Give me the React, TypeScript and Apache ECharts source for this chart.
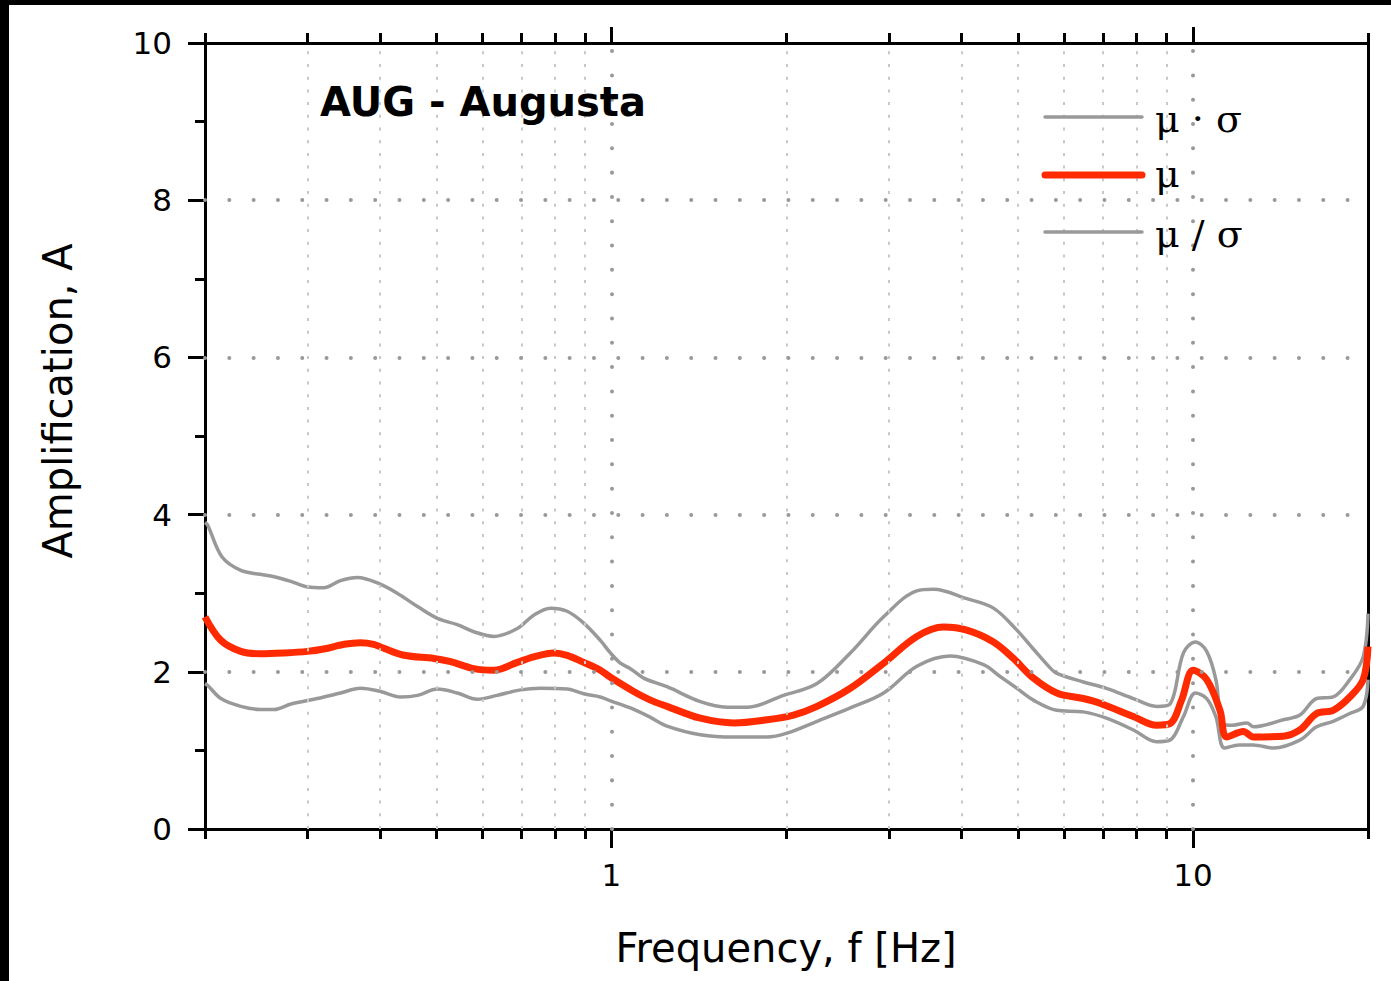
import React, { useEffect, useRef } from 'react';
import * as echarts from 'echarts';

// ---- data ----
const freqUpper = [0.2, 0.202, 0.214, 0.2305, 0.249, 0.263, 0.281, 0.3, 0.32, 0.342, 0.366, 0.396, 0.428, 0.464, 0.502, 0.543, 0.58, 0.628, 0.689, 0.735, 0.786, 0.839, 0.896, 0.957, 0.996, 1.036, 1.078, 1.136, 1.246, 1.422, 1.58, 1.711, 1.977, 2.257, 2.575, 2.938, 3.351, 3.579, 4.084, 4.539, 4.98, 5.316, 5.68, 5.832, 6.479, 7.1, 7.899, 8.662, 9.13, 9.63, 10.1, 10.56, 10.95, 11.25, 11.7, 12.38, 12.7, 14.3, 15.27, 16.32, 17.42, 18.61, 19.62, 20];
const valUpper = [3.9, 3.87, 3.46, 3.29, 3.24, 3.21, 3.15, 3.08, 3.07, 3.16, 3.2, 3.13, 3.0, 2.83, 2.68, 2.6, 2.51, 2.45, 2.55, 2.72, 2.81, 2.77, 2.62, 2.4, 2.24, 2.11, 2.04, 1.92, 1.81, 1.62, 1.55, 1.55, 1.7, 1.85, 2.24, 2.7, 3.03, 3.05, 2.93, 2.81, 2.53, 2.29, 2.05, 1.98, 1.87, 1.79, 1.66, 1.56, 1.59, 2.24, 2.38, 2.26, 1.9, 1.34, 1.32, 1.35, 1.3, 1.39, 1.45, 1.66, 1.68, 1.9, 2.19, 2.74];

const freqMean = [0.2, 0.213, 0.2305, 0.249, 0.2735, 0.3, 0.32, 0.347, 0.37, 0.39, 0.406, 0.44, 0.495, 0.529, 0.58, 0.628, 0.689, 0.735, 0.796, 0.839, 0.896, 0.957, 0.996, 1.092, 1.167, 1.246, 1.422, 1.623, 1.851, 2.057, 2.257, 2.575, 2.938, 3.351, 3.724, 4.084, 4.539, 4.912, 5.316, 5.832, 6.479, 6.922, 7.899, 8.662, 9.13, 9.56, 10.01, 10.56, 11.13, 11.43, 12.21, 12.7, 14.3, 15.27, 16.32, 17.42, 18.61, 19.62, 20];
const valMean = [2.7, 2.4, 2.26, 2.23, 2.24, 2.26, 2.29, 2.35, 2.37, 2.35, 2.3, 2.21, 2.17, 2.13, 2.04, 2.02, 2.12, 2.19, 2.24, 2.21, 2.12, 2.02, 1.93, 1.75, 1.64, 1.56, 1.41, 1.35, 1.39, 1.45, 1.56, 1.79, 2.11, 2.45, 2.57, 2.53, 2.38, 2.17, 1.92, 1.73, 1.66, 1.6, 1.43, 1.32, 1.34, 1.64, 2.02, 1.9, 1.51, 1.17, 1.24, 1.17, 1.18, 1.26, 1.47, 1.51, 1.68, 1.9, 2.32];

const freqLower = [0.2, 0.202, 0.213, 0.2305, 0.249, 0.263, 0.281, 0.312, 0.342, 0.37, 0.401, 0.434, 0.464, 0.502, 0.543, 0.588, 0.636, 0.698, 0.755, 0.839, 0.896, 0.957, 0.996, 1.078, 1.167, 1.246, 1.422, 1.623, 1.851, 2.004, 2.257, 2.575, 2.938, 3.351, 3.824, 4.363, 4.66, 4.98, 5.316, 5.832, 6.479, 7.1, 7.899, 8.662, 9.13, 9.63, 10.1, 10.56, 10.95, 11.33, 12.0, 12.7, 13.77, 15.27, 16.32, 17.42, 18.61, 19.62, 20];
const valLower = [1.85, 1.83, 1.66, 1.56, 1.52, 1.52, 1.59, 1.66, 1.73, 1.79, 1.75, 1.68, 1.7, 1.78, 1.73, 1.65, 1.7, 1.77, 1.79, 1.78, 1.72, 1.68, 1.63, 1.54, 1.42, 1.31, 1.2, 1.17, 1.17, 1.22, 1.37, 1.54, 1.73, 2.07, 2.2, 2.09, 1.94, 1.79, 1.64, 1.51, 1.49, 1.41, 1.26, 1.11, 1.13, 1.43, 1.73, 1.66, 1.43, 1.03, 1.07, 1.07, 1.03, 1.13, 1.3, 1.37, 1.47, 1.56, 1.9];

const seriesNames = ['μ · σ', 'μ', 'μ / σ'];
const titleText = 'AUG - Augusta';
const xAxisName = 'Frequency, f [Hz]';
const yAxisName = 'Amplification, A';
const xMajorTicks = [1, 10];
const xMinorTicks = [0.2, 0.3, 0.4, 0.5, 0.6, 0.7, 0.8, 0.9, 2, 3, 4, 5, 6, 7, 8, 9, 20];
const xMinorGrid = [0.3, 0.4, 0.5, 0.6, 0.7, 0.8, 0.9, 2, 3, 4, 5, 6, 7, 8, 9];
const yGridValues = [2, 4, 6, 8];

// ---- styles ----
const GRAY = '#999999';
const RED = '#ff2a00';
const FONT = '"DejaVu Sans", Verdana, sans-serif';
const W = 1391;
const H = 981;

export default function App() {
  const ref = useRef<HTMLDivElement>(null);

  useEffect(() => {
    if (!ref.current) return;
    const chart = echarts.init(ref.current, null, { renderer: 'svg' });

    const axisLineStyle = { color: '#000', width: 3 };
    const axisLineOn = { show: true, onZero: false, lineStyle: axisLineStyle };
    const axisLineOff = { show: false, onZero: false };
    const baseX = { type: 'log', logBase: 10, min: 0.2, max: 20, gridIndex: 0, splitLine: { show: false }, minorTick: { show: false }, minorSplitLine: { show: false } };
    const dotLine = { color: GRAY, width: 4, type: [0.01, 24.3], cap: 'round' };
    const minorGridLine = { color: '#c8c8c8', width: 2, type: [3, 9.7] };

    const colors = [GRAY, RED, GRAY];
    const widths = [3.5, 7, 3.5];
    const legendLineY = [117, 175, 232];
    const legendTextY = [119, 174, 234];
    const SMOOTH = 0.35;

    const option: any = {
      animation: false,
      backgroundColor: '#fff',
      grid: { left: 205, top: 43, right: W - 1368, bottom: H - 829, containLabel: false, outerBoundsMode: 'none' },
      xAxis: [
        { ...baseX, position: 'bottom', axisLine: axisLineOn, axisTick: { show: true, length: 10, customValues: xMinorTicks, lineStyle: axisLineStyle }, axisLabel: { show: false } },
        { ...baseX, position: 'bottom', axisLine: axisLineOff, axisTick: { show: true, length: 19, customValues: xMajorTicks, lineStyle: axisLineStyle },
          axisLabel: { show: true, customValues: xMajorTicks, margin: 30, fontSize: 31, color: '#000', fontFamily: FONT, formatter: (v: number) => String(Math.round(v)) } },
        { ...baseX, position: 'top', axisLine: axisLineOn, axisTick: { show: true, length: 10, customValues: xMinorTicks, lineStyle: axisLineStyle }, axisLabel: { show: false } },
        { ...baseX, position: 'top', axisLine: axisLineOff, axisTick: { show: true, length: 16, customValues: xMajorTicks, lineStyle: axisLineStyle }, axisLabel: { show: false } },
      ],
      yAxis: [
        { type: 'value', min: 0, max: 10, interval: 2, position: 'left', axisLine: axisLineOn, axisTick: { show: true, length: 17, lineStyle: axisLineStyle },
          axisLabel: { show: true, margin: 33, fontSize: 31, color: '#000', fontFamily: FONT }, splitLine: { show: false } },
        { type: 'value', min: 0, max: 10, interval: 1, position: 'left', axisLine: axisLineOff, axisTick: { show: true, length: 10, lineStyle: axisLineStyle }, axisLabel: { show: false }, splitLine: { show: false } },
        { type: 'value', min: 0, max: 10, interval: 2, position: 'right', axisLine: axisLineOn, axisTick: { show: false }, axisLabel: { show: false }, splitLine: { show: false } },
      ],
      series: [
        {
          name: 'grid', type: 'line', data: [], xAxisIndex: 0, yAxisIndex: 0, z: 1, silent: true,
          markLine: {
            silent: true, symbol: ['none', 'none'], label: { show: false }, animation: false,
            data: [
              ...xMinorGrid.map((v) => ({ xAxis: v, lineStyle: minorGridLine })),
              ...xMajorTicks.map((v) => ({ xAxis: v, lineStyle: dotLine })),
              ...yGridValues.map((v) => ({ yAxis: v, lineStyle: dotLine })),
            ],
          },
        },
        { name: seriesNames[0], type: 'line', xAxisIndex: 0, yAxisIndex: 0, z: 3, showSymbol: false, symbol: 'none', smooth: SMOOTH,
          lineStyle: { color: GRAY, width: 3.5 }, data: freqUpper.map((f, i) => [f, valUpper[i]]) },
        { name: seriesNames[2], type: 'line', xAxisIndex: 0, yAxisIndex: 0, z: 3, showSymbol: false, symbol: 'none', smooth: SMOOTH,
          lineStyle: { color: GRAY, width: 3.5 }, data: freqLower.map((f, i) => [f, valLower[i]]) },
        { name: seriesNames[1], type: 'line', xAxisIndex: 0, yAxisIndex: 0, z: 4, showSymbol: false, symbol: 'none', smooth: SMOOTH,
          lineStyle: { color: RED, width: 7 }, data: freqMean.map((f, i) => [f, valMean[i]]) },
      ],
      graphic: [
        { type: 'rect', shape: { x: 0, y: 0, width: W, height: 5 }, style: { fill: '#000' }, z: 100 },
        { type: 'rect', shape: { x: 0, y: 0, width: 9, height: H }, style: { fill: '#000' }, z: 100 },
        { type: 'text', x: 320, y: 102, style: { text: titleText, font: `bold 40px ${FONT}`, fill: '#000', textVerticalAlign: 'middle' }, z: 50 },
        { type: 'text', x: 786, y: 948, style: { text: xAxisName, font: `40px ${FONT}`, fill: '#000', textAlign: 'center', textVerticalAlign: 'middle' }, z: 50 },
        { type: 'text', x: 58, y: 401, rotation: Math.PI / 2, style: { text: yAxisName, font: `40px ${FONT}`, fill: '#000', textAlign: 'center', textVerticalAlign: 'middle' }, z: 50 },
        ...seriesNames.map((n, i) => ({ type: 'line', shape: { x1: 1045, y1: legendLineY[i], x2: 1142, y2: legendLineY[i] }, style: { stroke: colors[i], lineWidth: widths[i], lineCap: 'round' }, z: 50 })),
        ...seriesNames.map((n, i) => ({ type: 'text', x: 1155, y: legendTextY[i], style: { text: n, font: '38px "DejaVu Serif", "Liberation Serif", serif', fill: '#000', textVerticalAlign: 'middle' }, z: 50 })),
      ],
    };

    chart.setOption(option);
    return () => chart.dispose();
  }, []);

  return <div ref={ref} style={{ position: 'absolute', left: 0, top: 0, width: W, height: H, background: '#fff' }} />;
}
